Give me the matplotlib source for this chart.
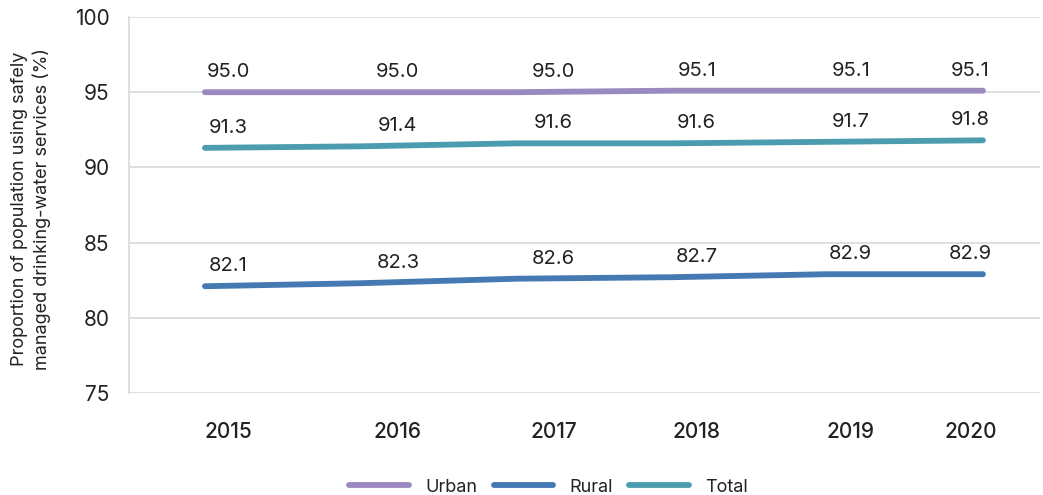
import matplotlib
matplotlib.use("Agg")
import matplotlib.pyplot as plt

plt.rcParams['font.family'] = ['Inter', 'DejaVu Sans']

years = ['2015', '2016', '2017', '2018', '2019', '2020']
urban = [95.0, 95.0, 95.0, 95.1, 95.1, 95.1]
rural = [82.1, 82.3, 82.6, 82.7, 82.9, 82.9]
total = [91.3, 91.4, 91.6, 91.6, 91.7, 91.8]
y_ticks = [75, 80, 85, 90, 95, 100]

# layout: horizontal positions of the year / value labels (as in the original)
label_pos = [0.148, 1.24, 2.24, 3.16, 4.15, 4.92]

colors = {'Urban': '#9A8ABF', 'Rural': '#4479B2', 'Total': '#4C9CB0'}

fig = plt.figure(figsize=(10.43, 4.95), dpi=100)
ax = fig.add_axes([0.1237, 0.206, 0.8733, 0.7597])

x = list(range(len(years)))
series = [('Urban', urban), ('Rural', rural), ('Total', total)]
for name, vals in series:
    ax.plot(x, vals, color=colors[name], lw=4.2, solid_capstyle='round', label=name, zorder=3)
    for lx, v in zip(label_pos, vals):
        ax.annotate(f'{v:.1f}', xy=(lx, v), xytext=(0, 8), textcoords='offset points',
                    ha='center', va='bottom', fontsize=14.5, color='#222222')

ax.set_xlim(-0.488, 5.366)
ax.set_ylim(75, 100)
ax.set_yticks(y_ticks)
ax.set_xticks(label_pos)
ax.set_xticklabels(years, fontsize=15, fontweight='medium', color='#222222')
ax.tick_params(axis='x', length=0, pad=21)
ax.tick_params(axis='y', length=0, pad=14, labelsize=15, labelcolor='#222222')

ax.grid(axis='y', color='#dcdcdc', lw=1.3, zorder=0)
for s in ['top', 'right', 'bottom']:
    ax.spines[s].set_visible(False)
ax.spines['left'].set_color('#dcdcdc')
ax.spines['left'].set_linewidth(1.3)

fig.text(31 / 1043, 0.578, 'Proportion of population using safely\nmanaged drinking-water services (%)',
         rotation=90, ha='center', va='center', fontsize=13, color='#222222',
         multialignment='center', linespacing=1.25)

fig.legend(loc='center', bbox_to_anchor=(0.526, 0.016), ncol=3, frameon=False, fontsize=13,
           handlelength=3.3, handletextpad=0.9, columnspacing=0.9, labelcolor='#222222')

fig.savefig('out.png', dpi=100)
